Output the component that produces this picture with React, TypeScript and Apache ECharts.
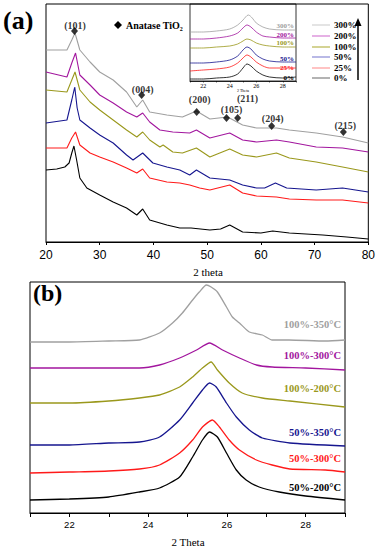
import React, { useEffect, useRef } from "react";
import * as echarts from "echarts";

const SERIF = "'Liberation Serif', 'Times New Roman', serif";
const SANS = "'Liberation Sans', Arial, sans-serif";

// ---------- Panel (a): XRD patterns ----------
const aNames = ["0%", "25%", "50%", "100%", "200%", "300%"];
const aColors = ["#000000", "#ff1a1a", "#16168f", "#9a981c", "#a2169e", "#a0a0a0"];
const aLegendColors = ["#808080", "#ff9a9a", "#8a8ad6", "#b8b64c", "#d67cd4", "#d2d2d2"];

const a0 = [[20,72],[22,73],[23.5,75],[24.3,79],[24.8,89],[25.2,96],[25.7,82],[26.3,64],[27.6,54],[30,47],[32.5,40],[35,34],[36.9,27],[38,33],[39.3,22],[42.5,17],[44.9,14],[47,14],[50.5,12],[52.5,13],[54.2,17],[56.6,10],[60,9],[62.2,11],[65.3,9],[71.5,7],[76,5],[80,3]];
const a25 = [[20,94],[23.9,94],[24.8,104],[25.5,110],[26.3,97],[28.2,89],[30,85],[32.5,80],[35,74],[36.9,69],[38,73],[39.3,64],[42.5,60],[44.9,59],[46.75,57],[48.6,54],[50.5,52],[54.2,57],[56.6,49],[59.2,46],[62.9,45],[65.3,43],[70.3,42],[75.2,42],[80,39]];
const a50 = [[20,119],[23.9,122],[24.8,142],[25.35,155],[25.8,134],[26.3,122],[28.2,114],[30,107],[32.5,99],[35,87],[36.2,82],[38,89],[39.9,79],[42.5,75],[44.9,72],[46.75,67],[48,72],[50.5,64],[54.2,62],[56.6,57],[59.2,54],[60.7,54],[62.7,59],[64.8,54],[70.3,52],[75.2,54],[80,50]];
const a100 = [[20,152],[23.9,150],[24.8,162],[25.4,170],[26.3,152],[28.2,140],[30,132],[32.5,122],[35,112],[36.9,105],[38,110],[39.3,102],[41.2,95],[41.8,97],[43.6,90],[45.4,89],[48,94],[50.5,85],[54.2,93],[56.6,87],[59.2,85],[62.9,89],[65.3,84],[70.3,80],[75.2,75],[80,70]];
const a200 = [[20,170],[23.9,165],[24.8,179],[25.5,189],[26.3,167],[28.2,157],[30,147],[32.5,139],[35,130],[36.9,125],[38,129],[39.3,120],[41.2,112],[43.6,110],[46.75,109],[48,112],[50.5,104],[54.2,109],[56.6,102],[59.2,100],[62.9,102],[65.3,100],[70.3,95],[75.2,94],[80,90]];
const a300 = [[20,192],[23.9,192],[24.8,202],[25.4,209],[26.3,192],[28.2,180],[30,170],[32.5,162],[35,150],[36.9,135],[38,142],[39.3,130],[42.5,127],[45.4,125],[48,131],[50.5,123],[53.8,125],[56.6,117],[59.2,114],[62.9,114],[65.3,112],[70.3,109],[75.2,105],[80,99]];
const aSeries = [a0, a25, a50, a100, a200, a300];

const peakDiamonds = [[25.3,211],[37.8,147],[48.05,130],[53.6,124],[55.67,124],[62.0,116],[75.36,110]];
const peakLabelNames = ["(101)", "(004)", "(200)", "(105)", "(211)", "(204)", "(215)"];
const peakLabelPos = [[25.4,217],[38.0,153],[48.6,143],[54.55,133],[57.5,144],[62.2,124],[75.7,117]];

// ---------- Inset of panel (a) ----------
const i0 = [[21,2],[22,2],[23,3],[24,4],[24.6,7],[25,13],[25.3,17],[25.6,15],[26,10],[26.5,6],[27,4],[28,3],[29,4]];
const i25 = [[21,10],[22,11],[23,12],[24,14],[24.6,18],[25,23],[25.3,26],[25.6,24],[26,19],[26.5,15],[27,13],[28,13],[29,13]];
const i50 = [[21,18],[22,18],[23,19],[24,21],[24.6,25],[25,31],[25.3,34],[25.6,32],[26,26],[26.5,22],[27,20],[28,19],[29,19]];
const i100 = [[21,33],[22,33],[23,34],[24,35],[24.6,37],[25,40],[25.3,42],[25.6,41],[26,38],[26.5,36],[27,35],[28,34],[29,34]];
const i200 = [[21,42],[22,42],[23,43],[24,45],[24.6,48],[25,53],[25.3,56],[25.6,54],[26,49],[26.5,45],[27,44],[28,43],[29,43]];
const i300 = [[21,49],[22,49],[23,50],[24,52],[24.6,56],[25,61],[25.4,66],[25.7,63],[26,58],[26.5,54],[27,52],[28,51],[29,51]];
const iSeries = [i0, i25, i50, i100, i200, i300];

// ---------- Panel (b) ----------
const bNames = ["50%-200°C", "50%-300°C", "50%-350°C", "100%-200°C", "100%-300°C", "100%-350°C"];
const bColors = ["#000000", "#ff1a1a", "#16168f", "#9a981c", "#a2169e", "#a0a0a0"];
const b1 = [[21,13],[22,14],[23,16],[23.78,21],[24.29,25],[24.8,36],[25.13,56],[25.38,73],[25.56,81],[25.76,76],[25.99,60],[26.24,43],[26.49,33],[26.82,26],[27.33,21],[28,17],[29,13]];
const b2 = [[21,40],[22,41],[23,42],[23.78,44],[24.29,48],[24.8,60],[25.13,73],[25.38,86],[25.63,93],[25.81,86],[26.06,73],[26.32,63],[26.75,53],[27.15,48],[27.6,44],[28.5,43],[29,41]];
const b3 = [[21,68],[22,68],[23,70],[23.78,71],[24.29,76],[24.8,93],[25.13,110],[25.38,123],[25.56,130],[25.73,126],[25.99,110],[26.24,96],[26.57,83],[26.9,75],[27.6,70],[29,67]];
const b4 = [[21,110],[22,110],[23,112],[23.78,115],[24.29,118],[24.8,126],[25.13,136],[25.38,145],[25.6,151],[25.76,143],[26.06,130],[26.39,120],[26.9,115],[27.6,112],[29,106]];
const b5 = [[21,145],[22,145],[23,145],[23.78,145],[24.29,148],[24.8,155],[25.23,163],[25.56,170],[25.89,163],[26.32,155],[26.75,148],[27.15,146],[28,145],[29,143]];
const b6 = [[21,171],[22,171],[23,172],[23.78,173],[24.29,180],[24.62,190],[24.87,200],[25.13,213],[25.3,221],[25.48,228],[25.6,226],[25.76,221],[25.99,206],[26.14,196],[26.32,190],[26.57,181],[26.9,178],[27.15,173],[27.58,173],[28.5,172],[29,173]];
const bSeries = [b1, b2, b3, b4, b5, b6];

const evenOnly = (v: number) => (Math.round(v) % 2 === 0 ? String(v) : "");

export default function App() {
  const ref = useRef<HTMLDivElement>(null);
  useEffect(() => {
    if (!ref.current) return;
    const chart = echarts.init(ref.current, undefined, { renderer: "svg" });

    const series: any[] = [];
    aSeries.forEach((d, k) => {
      series.push({
        type: "line", xAxisIndex: 0, yAxisIndex: 0, data: d, name: aNames[k],
        showSymbol: false, symbol: "none", lineStyle: { color: aColors[k], width: 1.1 },
      });
    });
    series.push({
      type: "scatter", xAxisIndex: 0, yAxisIndex: 0, data: peakDiamonds,
      symbol: "diamond", symbolSize: [7, 8], itemStyle: { color: "#000" }, z: 5,
    });
    series.push({
      type: "scatter", xAxisIndex: 0, yAxisIndex: 0,
      data: peakLabelPos.map((p, k) => ({ value: p, name: peakLabelNames[k] })),
      symbolSize: 1, itemStyle: { color: "transparent" }, z: 6,
      label: { show: true, position: "inside", formatter: "{b}", color: "#000", fontSize: 10, fontWeight: "bold", fontFamily: SERIF },
    });
    iSeries.forEach((d, k) => {
      series.push({
        type: "line", xAxisIndex: 1, yAxisIndex: 1, data: d, name: "inset " + aNames[k],
        showSymbol: false, symbol: "none", smooth: 0.3, lineStyle: { color: aColors[k], width: 0.8 },
      });
    });
    bSeries.forEach((d, k) => {
      series.push({
        type: "line", xAxisIndex: 2, yAxisIndex: 2, data: d, name: bNames[k],
        showSymbol: false, symbol: "none", smooth: 0.2, lineStyle: { color: bColors[k], width: 1.3 },
      });
    });

    const inL = [
      { t: "300%", y: 26, c: aColors[5] }, { t: "200%", y: 35, c: aColors[4] }, { t: "100%", y: 43, c: aColors[3] },
      { t: "50%", y: 59, c: aColors[2] }, { t: "25%", y: 68, c: aColors[1] }, { t: "0%", y: 78, c: aColors[0] },
    ];
    const legRows = [25, 36, 47, 57, 68, 78];
    const legOrder = [5, 4, 3, 2, 1, 0];
    const bLab = [
      { y: 487, k: 0 }, { y: 458, k: 1 }, { y: 432, k: 2 }, { y: 388, k: 3 }, { y: 355, k: 4 }, { y: 324, k: 5 },
    ];

    const graphic: any[] = [
      { type: "text", left: 3, top: 7, style: { text: "(a)", font: `bold 26px ${SERIF}`, fill: "#000" } },
      { type: "text", left: 33, top: 281, style: { text: "(b)", font: `bold 24px ${SERIF}`, fill: "#000" } },
      { type: "polygon", shape: { points: [[118, 21], [122, 25], [118, 29], [114, 25]] }, style: { fill: "#000" } },
      { type: "text", x: 126, y: 25, style: { text: "Anatase TiO₂", font: `bold 10px ${SERIF}`, fill: "#000", verticalAlign: "middle" } },
      { type: "text", x: 208, y: 272, style: { text: "2 theta", font: `11px ${SERIF}`, fill: "#000", align: "center", verticalAlign: "middle" } },
      { type: "text", x: 188, y: 542, style: { text: "2 Theta", font: `11px ${SERIF}`, fill: "#000", align: "center", verticalAlign: "middle" } },
      { type: "text", x: 243, y: 90, style: { text: "2 Theta", font: `4px ${SERIF}`, fill: "#000", align: "center", verticalAlign: "middle" } },
      { type: "line", shape: { x1: 358, y1: 80, x2: 358, y2: 24 }, style: { stroke: "#000", lineWidth: 1.5 } },
      { type: "polygon", shape: { points: [[354.5, 26], [361.5, 26], [358, 18]] }, style: { fill: "#000" } },
    ];
    legOrder.forEach((k, r) => {
      graphic.push({ type: "line", shape: { x1: 312, y1: legRows[r], x2: 330, y2: legRows[r] }, style: { stroke: aLegendColors[k], lineWidth: 1.2 } });
      graphic.push({ type: "text", x: 334, y: legRows[r], style: { text: aNames[k], font: `bold 9px ${SERIF}`, fill: "#000", verticalAlign: "middle" } });
    });
    inL.forEach((l) => {
      graphic.push({ type: "text", x: 294, y: l.y, style: { text: l.t, font: `bold 7px ${SERIF}`, fill: l.c, align: "right", verticalAlign: "middle" } });
    });
    bLab.forEach((l) => {
      graphic.push({ type: "text", x: 341, y: l.y, style: { text: bNames[l.k], font: `bold 10.5px ${SERIF}`, fill: bColors[l.k], align: "right", verticalAlign: "middle" } });
    });

    chart.setOption({
      animation: false,
      backgroundColor: "#fff",
      grid: [
        { left: 46, top: 4, width: 323, height: 238, show: true, borderColor: "#000", borderWidth: 1, backgroundColor: "transparent" },
        { left: 190, top: 4, width: 106, height: 77, show: true, borderColor: "#000", borderWidth: 0.8, backgroundColor: "transparent" },
        { left: 30, top: 282, width: 315, height: 231, show: true, borderColor: "#000", borderWidth: 1, backgroundColor: "transparent" },
      ],
      xAxis: [
        {
          gridIndex: 0, type: "value", min: 20, max: 80, interval: 10,
          axisLine: { lineStyle: { color: "#000", width: 1 } },
          axisTick: { show: true, length: 3, lineStyle: { color: "#000" } },
          axisLabel: { color: "#000", fontSize: 12, fontFamily: SANS, margin: 7 },
          splitLine: { show: false },
        },
        {
          gridIndex: 1, type: "value", min: 21, max: 29, interval: 1,
          axisLine: { lineStyle: { color: "#000", width: 0.8 } },
          axisTick: { show: true, length: 1.5, lineStyle: { color: "#000", width: 0.6 } },
          axisLabel: { color: "#000", fontSize: 6, fontFamily: SERIF, margin: 2, formatter: evenOnly },
          splitLine: { show: false },
        },
        {
          gridIndex: 2, type: "value", min: 21, max: 29, interval: 1,
          axisLine: { lineStyle: { color: "#000", width: 1 } },
          axisTick: { show: true, length: 4, lineStyle: { color: "#000" } },
          axisLabel: { color: "#000", fontSize: 9.5, fontFamily: SANS, margin: 6, formatter: evenOnly },
          splitLine: { show: false },
        },
      ],
      yAxis: [
        { gridIndex: 0, type: "value", min: 0, max: 238, show: false, splitLine: { show: false } },
        { gridIndex: 1, type: "value", min: 0, max: 77, show: false, splitLine: { show: false } },
        { gridIndex: 2, type: "value", min: 0, max: 231, show: false, splitLine: { show: false } },
      ],
      series,
      graphic,
    });
    return () => chart.dispose();
  }, []);
  return <div ref={ref} style={{ position: "absolute", left: 0, top: 0, width: 378, height: 550 }} />;
}
